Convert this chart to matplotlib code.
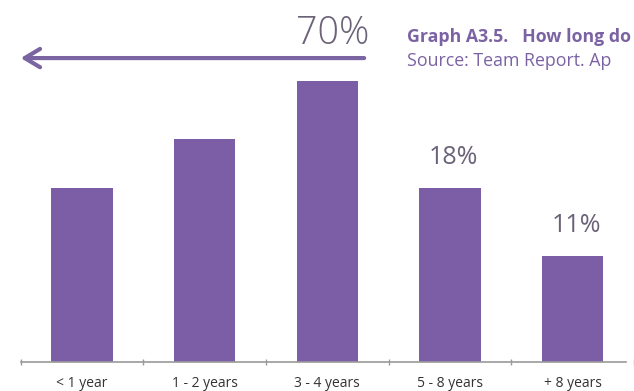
import matplotlib.pyplot as plt
import numpy as np

categories = ['< 1 year', '1 - 2 years', '3 - 4 years', '5 - 8 years', '+ 8 years']
shares = [18, 23, 29, 18, 11]
labelled = {3: '18%', 4: '11%'}
first_three_total = '70%'

bar_col = '#7b5ea6'
text_col = '#6b6278'
axis_col = '#9a9a9a'

plt.rcParams['font.family'] = ['Open Sans', 'DejaVu Sans']

fig = plt.figure(figsize=(6.34, 3.91), dpi=100)
ax = fig.add_axes([0, 1 - 362 / 391, 1, 362 / 391])

x = np.arange(len(categories))
ax.bar(x, shares, width=0.5, color=bar_col, edgecolor='none', zorder=2)

ax.set_xlim(-0.669, 4.435)
ax.set_ylim(0, 37.4)

# bottom axis only, with tick marks between the categories
for side in ['left', 'right', 'top']:
    ax.spines[side].set_visible(False)
ax.spines['bottom'].set_color(axis_col)
ax.spines['bottom'].set_linewidth(1.2)
ax.spines['bottom'].set_bounds(-0.5, 4.435)
ax.set_yticks([])
ax.set_xticks(x)
ax.set_xticklabels(categories, fontsize=10, color='#333333')
ax.tick_params(axis='x', which='major', length=0, pad=10)
ax.set_xticks(np.arange(-0.5, 5, 1), minor=True)
ax.tick_params(axis='x', which='minor', length=4, width=1, color=axis_col, direction='inout')

# value labels on the last two bars
for i, txt in labelled.items():
    ax.annotate(txt, xy=(x[i] + 0.03, shares[i]), xytext=(0, 17), textcoords='offset points',
                ha='center', va='baseline', fontsize=18, color=text_col)

# bracket arrow over the first three categories
ax.annotate('', xy=(-0.5, 31.4), xytext=(2.3, 31.4),
            arrowprops=dict(arrowstyle='->,head_length=0.55,head_width=0.33',
                            color='#7a64a2', lw=3, mutation_scale=20, shrinkA=0, shrinkB=0))
ax.text(2.04, 32.9, first_three_total, ha='center', va='baseline', fontsize=27,
        fontweight='light', color=text_col)

fig.text(407 / 634, 1 - 42 / 391, 'Graph A3.5.   How long do',
         fontsize=12.8, fontweight='bold', color='#7b62a3', ha='left', va='baseline')
fig.text(407 / 634, 1 - 66 / 391, 'Source: Team Report. Ap',
         fontsize=12.8, color='#7b62a3', ha='left', va='baseline')

fig.savefig('out.png', dpi=100, facecolor='white')
